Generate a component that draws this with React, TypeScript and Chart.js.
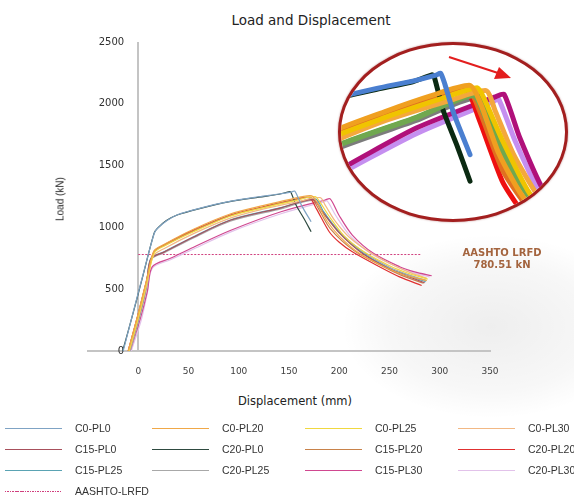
import React, { useEffect, useRef } from "react";
import { Chart, registerables } from "chart.js";

Chart.register(...registerables);

// ---------- data ----------
const seriesNames = [
  "C0-PL0", "C0-PL20", "C0-PL25", "C0-PL30",
  "C15-PL0", "C20-PL0", "C15-PL20", "C20-PL20",
  "C15-PL25", "C20-PL25", "C15-PL30", "C20-PL30",
];

const mainColors = [
  "#7fa3c4", "#f0a848", "#f0d840", "#f2b884",
  "#a8505c", "#2e4a40", "#c8824a", "#e03030",
  "#5aa3b3", "#a8a8a8", "#d04890", "#e2c2ea",
];

const insetColors = [
  "#4a7fd0", "#f0a020", "#f0c400", "#f4a83c",
  "#70a850", "#0b2a12", "#e07020", "#ee1010",
  "#6aaa44", "#7c7c7c", "#b0107a", "#c58ff0",
];

const C0_PL0: [number, number][] = [
  [-15, 0], [-5, 315], [5, 625], [16, 955], [19.5, 995], [29, 1058], [39, 1102],
  [60, 1152], [91, 1210], [120, 1248], [140, 1270], [153, 1288], [155.6, 1294],
  [158, 1260], [163, 1170], [172, 1046],
];
const C0_PL20: [number, number][] = [
  [-10, 0], [0, 305], [8, 565], [15.5, 808], [25.5, 862], [55, 985], [91.5, 1108],
  [125, 1178], [150, 1225], [172, 1257], [178, 1200], [188, 1050], [200, 930],
  [220, 790], [245, 680], [265, 615], [287, 570],
];
const C0_PL25: [number, number][] = [
  [-9, 0], [1, 300], [9, 570], [16, 795], [26, 850], [55, 965], [91.5, 1090],
  [125, 1160], [155, 1215], [176, 1250], [180, 1215], [190, 1090], [205, 930],
  [225, 800], [250, 690], [270, 625], [288, 582],
];
const C0_PL30: [number, number][] = [
  [-9, 0], [1, 290], [9, 555], [15, 770], [26, 830], [55, 950], [91.5, 1075],
  [125, 1150], [160, 1210], [181, 1241], [186, 1180], [196, 1050], [210, 920],
  [232, 790], [256, 685], [272, 630], [287, 590],
];
const C15_PL0: [number, number][] = [
  [-9, 0], [1, 290], [8, 530], [12.5, 745], [25.6, 800], [55, 922], [91.5, 1058],
  [142, 1158], [174, 1225], [182, 1140], [200, 955], [222, 795], [248, 672],
  [268, 605], [285, 552],
];
const C20_PL0: [number, number][] = [
  [-15.5, 0], [-5, 310], [5, 620], [15.7, 952], [19, 992], [28, 1055], [38.7, 1100],
  [60, 1150], [91, 1208], [120, 1245], [140, 1268], [150.7, 1289], [152, 1283],
  [157, 1181], [165, 1070], [172, 965],
];
const C15_PL20: [number, number][] = [
  [-10, 0], [0, 300], [8, 560], [15.5, 800], [25.5, 852], [55, 972], [91.5, 1095],
  [125, 1165], [150, 1212], [171, 1245], [178, 1170], [191, 990], [215, 810],
  [242, 690], [262, 612], [284, 548],
];
const C20_PL20: [number, number][] = [
  [-10, 0], [0, 300], [8, 560], [15.6, 803], [25.6, 857], [40, 920], [55, 978],
  [91.5, 1100], [125, 1168], [150, 1215], [170, 1241], [177, 1154], [190, 965],
  [200, 880], [213, 803], [240, 682], [260, 600], [282, 530],
];
const C15_PL25: [number, number][] = [
  [-9, 0], [1, 285], [8, 525], [12.5, 750], [25.6, 803], [55, 925], [91.5, 1060],
  [142, 1160], [176, 1230], [184.5, 1127], [201, 952], [224, 790], [250, 668],
  [270, 605], [286, 561],
];
const C20_PL25: [number, number][] = [
  [-8, 0], [2, 290], [9, 530], [13, 740], [26, 795], [55, 915], [91.5, 1050],
  [142, 1150], [175, 1218], [184, 1120], [202, 950], [226, 790], [252, 670],
  [272, 608], [287, 570],
];
const C15_PL30: [number, number][] = [
  [-8, 0], [2, 260], [9, 480], [14, 682], [32, 750], [55, 840], [91.5, 975],
  [142, 1127], [186, 1222], [191, 1230], [199.6, 1100], [213, 938], [234, 790],
  [260, 682], [275, 640], [292, 609],
];
const C20_PL30: [number, number][] = [
  [-7, 0], [3, 250], [9, 470], [14, 670], [32, 738], [55, 825], [91.5, 962],
  [142, 1110], [185, 1208], [188, 1215], [197, 1090], [211, 930], [232, 785],
  [258, 678], [274, 632], [290, 600],
];

const seriesData = [
  C0_PL0, C0_PL20, C0_PL25, C0_PL30,
  C15_PL0, C20_PL0, C15_PL20, C20_PL20,
  C15_PL25, C20_PL25, C15_PL30, C20_PL30,
];

const aashtoName = "AASHTO-LRFD";
const aashtoValue = 780.51;
const aashtoRange = [0, 282];
const aashtoColor = "#d0407e";

const xMin = -50, xMax = 350, xStep = 50;
const yMin = 0, yMax = 2500, yStep = 500;
const yLabelAt = -14; // y tick labels sit just left of the zero line
const insetX = [100, 225];
const insetY = [850, 1380];

const toPts = (arr: [number, number][]) => arr.map(([x, y]) => ({ x, y }));

export default function App() {
  const mainRef = useRef<HTMLCanvasElement>(null);
  const insetRef = useRef<HTMLCanvasElement>(null);

  useEffect(() => {
    const tickFont = { family: "'DejaVu Sans', sans-serif" };
    const datasets: any[] = seriesData.map((d, i) => ({
      label: seriesNames[i],
      data: toPts(d),
      showLine: true,
      borderColor: mainColors[i],
      borderWidth: 1.2,
      pointRadius: 0,
      tension: 0.3,
      fill: false,
    }));
    datasets.push({
      label: aashtoName,
      data: aashtoRange.map((x) => ({ x, y: aashtoValue })),
      showLine: true,
      borderColor: aashtoColor,
      borderWidth: 1,
      borderDash: [2, 1.5],
      pointRadius: 0,
      fill: false,
    });

    const main = new Chart(mainRef.current!, {
      type: "scatter",
      data: { datasets },
      options: {
        animation: false,
        responsive: false,
        layout: { padding: { left: 88, right: 84, top: 42, bottom: 0 } },
        plugins: { legend: { display: false }, tooltip: { enabled: false }, title: { display: false } },
        scales: {
          x: {
            type: "linear",
            min: xMin,
            max: xMax,
            position: "bottom",
            ticks: {
              stepSize: xStep,
              callback: (v: any) => (Number(v) < 0 ? "" : String(v)),
              font: { ...tickFont, size: 9 },
              color: "#404040",
              padding: 15,
              maxRotation: 0,
              autoSkip: false,
            },
            grid: {
              display: true,
              drawTicks: false,
              lineWidth: 2,
              color: (ctx: any) => (ctx.tick && ctx.tick.value === 0 ? "#c4c4c4" : "rgba(0,0,0,0)"),
            },
            border: { display: true, color: "#c4c4c4", width: 2 },
            afterFit: (s: any) => {
              s.height = 39;
            },
          },
          y: {
            type: "linear",
            min: yMin,
            max: yMax,
            position: { x: yLabelAt } as any,
            ticks: {
              stepSize: yStep,
              callback: (v: any) => String(v),
              font: { ...tickFont, size: 10 },
              color: "#303030",
            },
            grid: { display: false, drawTicks: false },
            border: { display: false },
          },
        },
      },
    });

    const insetSets = seriesData.map((d, i) => ({
      label: seriesNames[i],
      data: toPts(d),
      showLine: true,
      borderColor: insetColors[i],
      borderWidth: 5,
      borderCapStyle: "round" as const,
      borderJoinStyle: "round" as const,
      pointRadius: 0,
      tension: 0.2,
      fill: false,
    }));
    const inset = new Chart(insetRef.current!, {
      type: "scatter",
      data: { datasets: insetSets },
      options: {
        animation: false,
        responsive: false,
        layout: { padding: 0 },
        plugins: { legend: { display: false }, tooltip: { enabled: false } },
        scales: {
          x: { type: "linear", display: false, min: insetX[0], max: insetX[1] },
          y: { type: "linear", display: false, min: insetY[0], max: insetY[1] },
        },
      },
    });

    return () => {
      main.destroy();
      inset.destroy();
    };
  }, []);

  const legendItems = [
    ...seriesNames.map((n, i) => ({ name: n, color: mainColors[i], dashed: false })),
    { name: aashtoName, color: aashtoColor, dashed: true },
  ];
  const colLeft = [5, 152, 305, 458];

  return (
    <div
      style={{
        position: "fixed",
        left: 0,
        top: 0,
        width: 574,
        height: 497,
        background: "#ffffff",
        overflow: "hidden",
        fontFamily: "'DejaVu Sans', sans-serif",
      }}
    >
      {/* soft shadow */}
      <div
        style={{
          position: "absolute",
          left: 260,
          top: 200,
          width: 340,
          height: 230,
          background:
            "radial-gradient(ellipse 55% 50% at 68% 55%, rgba(0,0,0,0.065), rgba(0,0,0,0.03) 55%, rgba(0,0,0,0) 80%)",
        }}
      />
      <div
        style={{
          position: "absolute",
          left: 0,
          top: 11,
          width: 622,
          textAlign: "center",
          fontSize: 13.5,
          color: "#222",
          lineHeight: "18px",
        }}
      >
        Load and Displacement
      </div>
      <canvas ref={mainRef} width={574} height={390} style={{ position: "absolute", left: 0, top: 0 }} />
      <div
        style={{
          position: "absolute",
          left: 60,
          top: 199,
          transform: "translate(-50%, -50%) rotate(-90deg)",
          fontFamily: "'Liberation Sans', sans-serif",
          fontSize: 10,
          color: "#222",
          whiteSpace: "nowrap",
        }}
      >
        Load (kN)
      </div>
      <div
        style={{
          position: "absolute",
          left: 295,
          top: 401,
          transform: "translate(-50%, -50%)",
          fontSize: 11.5,
          color: "#222",
          whiteSpace: "nowrap",
        }}
      >
        Displacement (mm)
      </div>
      <div
        style={{
          position: "absolute",
          left: 502,
          top: 259,
          transform: "translate(-50%, -50%)",
          fontSize: 10,
          fontWeight: "bold",
          color: "#a4643e",
          textAlign: "center",
          lineHeight: "12px",
          whiteSpace: "nowrap",
        }}
      >
        AASHTO LRFD
        <br />
        780.51 kN
      </div>
      {/* inset magnified view */}
      <div
        style={{
          position: "absolute",
          left: 338,
          top: 42,
          width: 230,
          height: 180,
          boxSizing: "border-box",
          border: "3px solid #a31f1f",
          borderRadius: "50%",
          overflow: "hidden",
          background: "#ffffff",
          boxShadow: "0 0 2px rgba(120,0,0,0.5)",
        }}
      >
        <canvas ref={insetRef} width={224} height={174} style={{ display: "block" }} />
      </div>
      <svg
        width={574}
        height={497}
        style={{ position: "absolute", left: 0, top: 0, pointerEvents: "none" }}
      >
        <line x1={449} y1={57} x2={498} y2={73} stroke="#e31e1e" strokeWidth={2} />
        <polygon points="511,78 494,79 499,67" fill="#e31e1e" />
      </svg>
      {/* legend */}
      {legendItems.map((it, i) => {
        const row = Math.floor(i / 4);
        const col = i % 4;
        return (
          <div
            key={it.name}
            style={{
              position: "absolute",
              left: colLeft[col],
              top: 418 + row * 21,
              height: 20,
              display: "flex",
              alignItems: "center",
              whiteSpace: "nowrap",
              fontFamily: "'Liberation Sans', sans-serif",
              fontSize: 10.5,
              color: "#333",
            }}
          >
            <div
              style={{
                width: 57,
                height: 1,
                background: it.dashed
                  ? `repeating-linear-gradient(to right, ${it.color} 0 1.5px, rgba(0,0,0,0) 1.5px 2.5px)`
                  : it.color,
                marginRight: 13,
              }}
            />
            <span>{it.name}</span>
          </div>
        );
      })}
    </div>
  );
}
